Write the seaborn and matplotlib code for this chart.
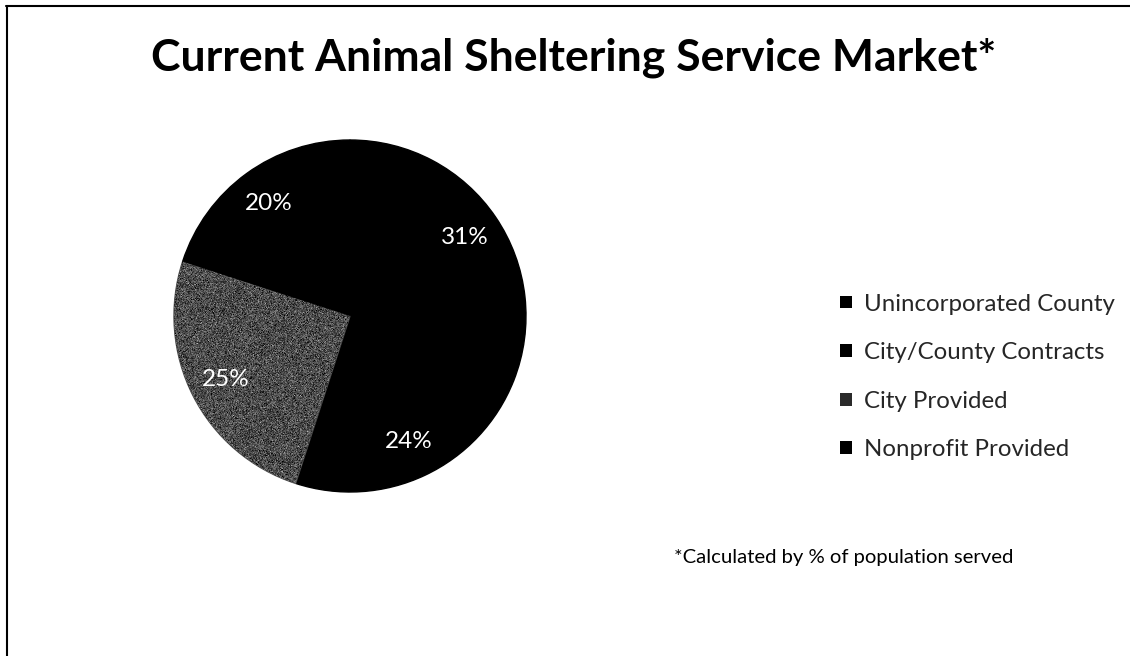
import numpy as np
import matplotlib
matplotlib.use("Agg")
import matplotlib.pyplot as plt
from matplotlib.lines import Line2D
from matplotlib.patches import Patch
import seaborn as sns

# Market share by service provider (% of population served)
categories = ["Unincorporated County", "City/County Contracts", "City Provided", "Nonprofit Provided"]
shares = [31, 24, 25, 20]
slice_colors = ["#000000", "#000000", "#4a4a4a", "#000000"]
legend_colors = ["#000000", "#000000", "#2a2a2a", "#000000"]

title_text = "Current Animal Sheltering Service Market*"
footnote_text = "*Calculated by % of population served"

sns.set_theme(style="white")
plt.rcParams["font.family"] = ["Lato", "DejaVu Sans"]

W, H = 1130, 656
fig = plt.figure(figsize=(W / 100, H / 100), dpi=100)
fig.patch.set_facecolor("white")

# pie axes: centre (350, 316) px, radius 176 px
cx, cy, r = 350, 316, 176
ax = fig.add_axes([(cx - r) / W, (H - cy - r) / H, 2 * r / W, 2 * r / H])
wedges, _, autotexts = ax.pie(
    shares,
    colors=slice_colors,
    startangle=90,
    counterclock=False,
    autopct="%d%%",
    pctdistance=0.79,
    textprops=dict(color="white", fontsize=17.5),
    wedgeprops=dict(linewidth=1.0),
)
for w in wedges:
    w.set_edgecolor(w.get_facecolor())
ax.set_xlim(-1, 1)
ax.set_ylim(-1, 1)
ax.set_aspect("equal")
ax.axis("off")

# grainy fill for the grey slice
rng = np.random.default_rng(7)
grain = np.clip(rng.normal(0.30, 0.11, size=(352, 352)), 0, 1)
img = ax.imshow(grain, cmap="gray", vmin=0, vmax=1, extent=[-1, 1, -1, 1],
                interpolation="nearest", zorder=1.5)
img.set_clip_path(wedges[2])
for t in autotexts:
    t.set_zorder(3)

# legend with small square keys
handles = [Patch(facecolor=c, edgecolor="none") for c in legend_colors]
fig.legend(handles, categories, loc="center left",
           bbox_to_anchor=(830 / W, 1 - 377 / H), frameon=False,
           fontsize=17.3, handlelength=0.5, handleheight=0.45,
           handletextpad=0.5, labelspacing=1.15, borderaxespad=0)

fig.text(574 / W, 1 - 58 / H, title_text, ha="center", va="center",
         fontsize=32, fontweight="bold", color="black")
fig.text(674 / W, 1 - 557 / H, footnote_text, ha="left", va="center",
         fontsize=14.6, color="black")

# frame edges along the top and left
fig.add_artist(Line2D([6 / W, 1], [1 - 6 / H, 1 - 6 / H], color="black", lw=1.5,
                      transform=fig.transFigure))
fig.add_artist(Line2D([7 / W, 7 / W], [0, 1 - 6 / H], color="black", lw=1.5,
                      transform=fig.transFigure))

fig.savefig("out.png", dpi=100, facecolor="white")
